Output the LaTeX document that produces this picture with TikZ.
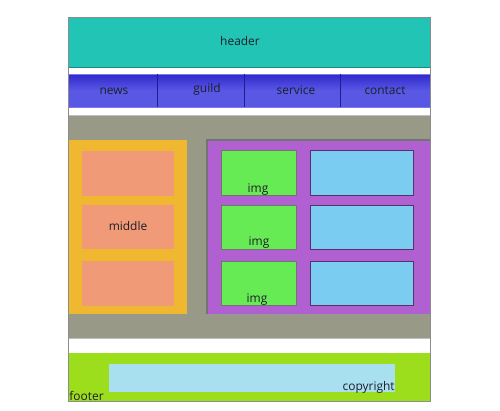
\documentclass[tikz,border=0pt]{standalone}
\usepackage{fontspec}
\setmainfont{Open Sans}
\definecolor{teal1}{RGB}{34,197,181}
\definecolor{navb}{RGB}{88,88,228}
\definecolor{navt}{RGB}{50,40,205}
\definecolor{grayb}{RGB}{153,153,136}
\definecolor{yel}{RGB}{240,184,48}
\definecolor{salm}{RGB}{240,154,120}
\definecolor{purp}{RGB}{176,96,208}
\definecolor{grn}{RGB}{102,235,85}
\definecolor{lblue}{RGB}{122,204,240}
\definecolor{fgrn}{RGB}{156,221,28}
\definecolor{cblue}{RGB}{168,224,240}
\definecolor{txt}{RGB}{30,30,40}
\tikzset{
  lbl/.style={font=\fontsize{6.8}{8}\selectfont, text=txt, inner sep=0pt},
  cell/.style={draw=black!55, line width=0.5pt},
}
\begin{document}
\begin{tikzpicture}[x=0.02cm,y=-0.02cm]
\useasboundingbox (0,0) rectangle (500,410);
\fill[white] (0,0) rectangle (500,410);
% header
\fill[teal1] (68,17) rectangle (430,67) coordinate (hdr);
\draw[teal1!70!black, line width=0.4pt] (68,67) -- (430,67);
\node[lbl] (header) at (240,41) {header};
% nav
\shade[top color=navt, bottom color=navb, middle color=navb] (68,74) rectangle (430,107);
\draw[navb!80!white, line width=0.4pt] (68,74) rectangle (430,107);
\draw[navt!70!black, line width=0.5pt] (157,74) -- (157,107) (244,74) -- (244,107) (340,74) -- (340,107);
\node[lbl] (news) at (114,91) {news};
\node[lbl] (guild) at (207,89) {guild};
\node[lbl] (service) at (296,90) {service};
\node[lbl] (contact) at (385,91) {contact};
% main gray
\fill[grayb] (68,115) rectangle (430,338);
\draw[black!25, line width=0.4pt] (68,115) -- (430,115) (68,338) -- (430,338);
% yellow column
\fill[yel] (69,140) rectangle (187,314);
\fill[salm] (82,151) rectangle (174,196);
\fill[salm] (82,205) rectangle (174,249);
\fill[salm] (82,261) rectangle (174,306);
\node[lbl] (middle) at (128,226) {middle};
% purple
\fill[purp] (207,140) rectangle (430,314);
\draw[black!55, line width=0.6pt] (207,314) -- (207,140) -- (430,140);
\draw[black!40, line width=0.4pt] (207,314) -- (430,314);
\foreach \ya/\yb [count=\i] in {150/195, 205/249, 261/305}{
  \draw[cell, fill=grn] (221,\ya) rectangle (296,\yb);
  \draw[cell, fill=lblue, draw=purp!50!black] (310,\ya) rectangle (413,\yb);
}
\node[lbl] (img1) at (258,190) {img};
\node[lbl] (img2) at (259,243) {img};
\node[lbl] (img3) at (257,300) {img};
% footer
\fill[fgrn] (68,353) rectangle (430,401);
\fill[cblue] (109,364) rectangle (395,392);
\node[lbl, anchor=base east] (copyright) at (395,390) {copyright};
\node[lbl, anchor=base west] (footer) at (69,400) {footer};
% frame
\draw[black!45, line width=0.5pt] (68,17) rectangle (430,401);
\end{tikzpicture}
\end{document}
